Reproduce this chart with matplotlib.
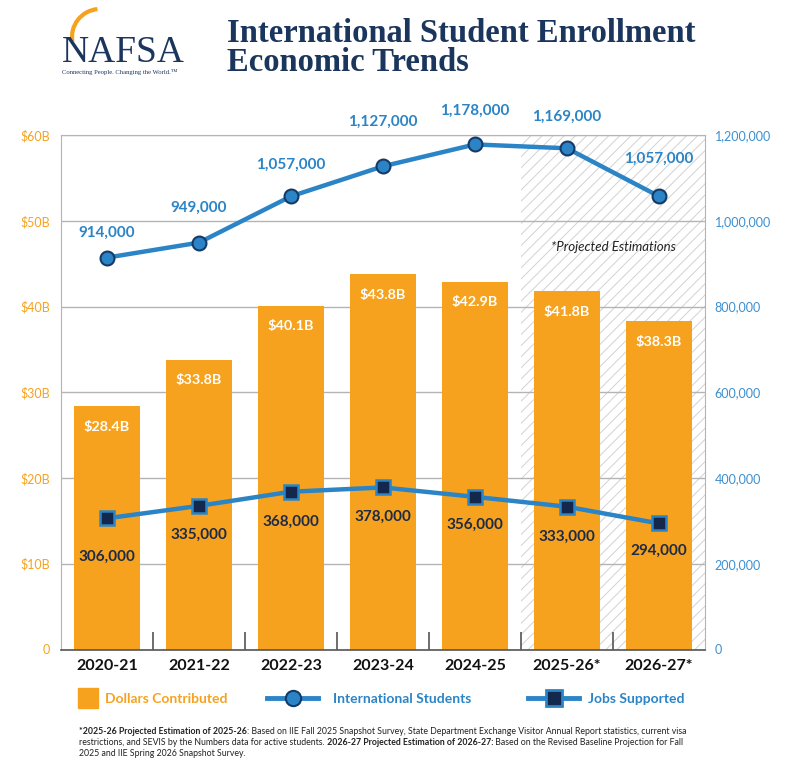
import numpy as np
import matplotlib.pyplot as plt
from matplotlib.lines import Line2D
from matplotlib.patches import Arc

plt.rcParams['font.family'] = ['Lato', 'DejaVu Sans']
plt.rcParams['hatch.linewidth'] = 0.7

# data
years = ["2020-21", "2021-22", "2022-23", "2023-24", "2024-25", "2025-26*", "2026-27*"]
dollars_b = [28.4, 33.8, 40.1, 43.8, 42.9, 41.8, 38.3]
students = [914000, 949000, 1057000, 1127000, 1178000, 1169000, 1057000]
jobs = [306000, 335000, 368000, 378000, 356000, 333000, 294000]
n_projected = 2

# label offsets (points) so the numbers sit like in the original
stu_off = [18, 25, 23, 32, 24, 23, 27]
job_off = [28, 21, 22, 21, 20, 22, 20]

ORANGE = "#F6A21E"
BLUE = "#2B84C6"
NAVY = "#163A66"
DARK = "#13284C"

fig = plt.figure(figsize=(8, 7.72), dpi=100)
ax = fig.add_axes([61/800, 1 - 649.5/772, 644/800, 514.5/772])
x = np.arange(len(years))

ax.set_xlim(-0.5, len(years) - 0.5)
ax.set_ylim(0, 60)

# projected area
ax.axvspan(len(years) - n_projected - 0.5, len(years) - 0.5, facecolor="white",
           edgecolor="#d2d2d2", hatch="///", lw=0, zorder=0.2)
ax.yaxis.grid(True, color="#b4b4b4", lw=1)
ax.set_axisbelow(True)

ax.bar(x, dollars_b, width=0.72, color=ORANGE, zorder=2)
for i, v in enumerate(dollars_b):
    ax.annotate(f"${v}B", (i, v), xytext=(0, -15), textcoords="offset points",
                ha="center", va="center", color="white", fontsize=10.4, fontweight="bold", zorder=3)

ax.text(5.5, 46.9, "*Projected Estimations", ha="center", va="center",
        fontsize=9.5, style="italic", color="#222222")

ax.set_yticks(np.arange(0, 61, 10))
ax.set_yticklabels(["0"] + [f"${v}B" for v in range(10, 61, 10)])
ax.tick_params(axis="y", length=0, pad=8, labelcolor=ORANGE, labelsize=9)
ax.set_xticks(x)
ax.set_xticklabels(years, fontsize=11.5, fontweight="bold", color="#111111")
ax.tick_params(axis="x", which="major", length=0, pad=7)
ax.set_xticks(np.arange(0.5, len(years) - 1, 1), minor=True)
ax.tick_params(axis="x", which="minor", direction="in", length=13, width=1.2, color="#555555")

for s in ["left", "right", "top"]:
    ax.spines[s].set_color("#b4b4b4")
ax.spines["bottom"].set_color("#555555")
ax.spines["bottom"].set_linewidth(1.2)

ax2 = ax.twinx()
ax2.set_ylim(0, 1200000)
ax2.set_yticks(np.arange(0, 1200001, 200000))
ax2.set_yticklabels(["0"] + [f"{v:,}" for v in range(200000, 1200001, 200000)])
ax2.tick_params(axis="y", length=0, pad=7, labelcolor="#3C8FD0", labelsize=9)
for s in ax2.spines.values():
    s.set_visible(False)

ax2.plot(x, students, color=BLUE, lw=3.2, marker="o", ms=10, mfc=BLUE, mec=NAVY, mew=1.5, zorder=4)
for i, v in enumerate(students):
    ax2.annotate(f"{v:,}", (i, v), xytext=(0, stu_off[i]), textcoords="offset points",
                 ha="center", va="center", color=BLUE, fontsize=11, fontweight="bold")

ax2.plot(x, jobs, color=BLUE, lw=3.2, marker="s", ms=10.5, mfc=DARK, mec=BLUE, mew=1.8, zorder=4)
for i, v in enumerate(jobs):
    ax2.annotate(f"{v:,}", (i, v), xytext=(0, -job_off[i]), textcoords="offset points",
                 ha="center", va="center", color="#1E2B45", fontsize=11, fontweight="bold")

# legend: three one-entry legends so each handle can have its own length
legend_items = [
    (Line2D([], [], ls="none", marker="s", ms=14, color=ORANGE), "Dollars Contributed", ORANGE, 78, 1.4, 0.55),
    (Line2D([], [], color=BLUE, lw=3.5, marker="o", ms=11, mfc=BLUE, mec=NAVY, mew=1.5),
     "International Students", BLUE, 267, 3.7, 1.05),
    (Line2D([], [], color=BLUE, lw=3.5, marker="s", ms=11, mfc=DARK, mec=BLUE, mew=2),
     "Jobs Supported", BLUE, 528, 3.7, 0.6),
]
for h, lab, col, xpx, hl, pad in legend_items:
    leg = fig.legend([h], [lab], loc="center left", bbox_to_anchor=(xpx/800, 1 - 699/772),
                     frameon=False, prop={"weight": "bold", "size": 10}, handlelength=hl,
                     handletextpad=pad, borderpad=0, borderaxespad=0)
    leg.get_texts()[0].set_color(col)

# title and logo
fig.text(227/800, 1 - 18/772, "International Student Enrollment\nEconomic Trends", ha="left", va="top",
         fontsize=23.5, fontweight="bold", family="Liberation Serif", color="#1B365D", linespacing=0.9)
fig.text(62/800, 1 - 62/772, "NAFSA", ha="left", va="baseline", fontsize=27,
         family="Liberation Serif", color="#1B365D")
fig.text(62/800, 1 - 74/772, "Connecting People. Changing the World.\u2122", ha="left", va="baseline",
         fontsize=4.8, family="Liberation Serif", color="#1B365D")
fig.add_artist(Arc((100/800, 1 - 37/772), 56/800, 56/772, theta1=95, theta2=190,
                   transform=fig.transFigure, color=ORANGE, lw=3))

# footnote with bold parts
renderer = fig.canvas.get_renderer()


def rich_line(x0, y0, parts, size=6.3):
    xx = x0
    for txt, bold in parts:
        t = fig.text(xx, y0, txt, fontsize=size, fontweight="bold" if bold else "normal",
                     color="#222222", va="baseline", ha="left")
        xx += t.get_window_extent(renderer).width / fig.bbox.width


rich_line(79/800, 1 - 734/772, [("*2025-26 Projected Estimation of 2025-26", True),
                                 (": Based on IIE Fall 2025 Snapshot Survey, State Department Exchange Visitor Annual Report statistics, current visa", False)])
rich_line(79/800, 1 - 745/772, [("restrictions, and SEVIS by the Numbers data for active students.", False),
                                 (" 2026-27 Projected Estimation of 2026-27:", True),
                                 (" Based on the Revised Baseline Projection for Fall", False)])
rich_line(79/800, 1 - 756/772, [("2025 and IIE Spring 2026 Snapshot Survey.", False)])

fig.savefig("out.png", dpi=100)
